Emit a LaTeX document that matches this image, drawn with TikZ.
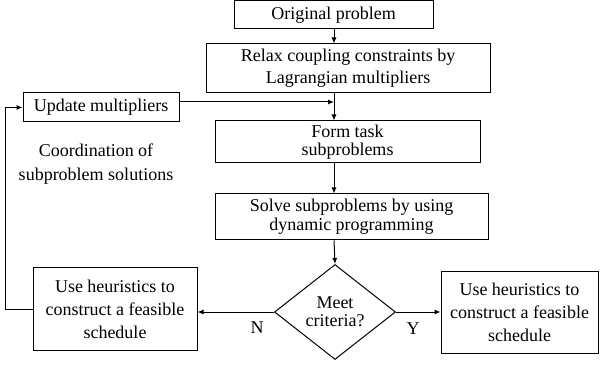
\documentclass[tikz,border=0pt]{standalone}
\usepackage{fontspec}
\setmainfont{Liberation Serif}
\usetikzlibrary{shapes.geometric,arrows.meta}
\begin{document}
\begin{tikzpicture}[x=1pt,y=1pt,
  box/.style={draw, line width=1pt, inner sep=0pt, align=center, font=\fontsize{18}{21}\selectfont},
  arr/.style={line width=1pt, -{Latex[length=6pt,width=5pt]}},
  lbl/.style={inner sep=0pt, align=center, font=\fontsize{18}{24}\selectfont}]
\useasboundingbox (0,0) rectangle (600,-366);
\coordinate (spine) at (334,0);
\coordinate (fb) at (5,0);
\coordinate (join) at (334,-102);
\node[box, minimum width=199pt, minimum height=28pt] (orig) at (333.5,-15) {Original problem};
\node[box, minimum width=284pt, minimum height=49pt, font=\fontsize{18}{22}\selectfont] (relax) at (348,-68.5) {Relax coupling constraints by\\Lagrangian multipliers};
\node[box, minimum width=156pt, minimum height=29pt] (update) at (101,-107.5) {Update multipliers};
\node[box, minimum width=265pt, minimum height=42pt, font=\fontsize{18}{18}\selectfont] (form) at (347.5,-142) {Form task\\subproblems};
\node[box, minimum width=273pt, minimum height=46pt, font=\fontsize{18}{19}\selectfont] (solve) at (351.5,-217) {Solve subproblems by using\\dynamic programming};
\node[draw, line width=1pt, shape=diamond, aspect=1.27, inner sep=0pt, minimum width=121pt, minimum height=95pt, align=center, font=\fontsize{18}{18}\selectfont] (dia) at (335,-312) {Meet\\criteria?};
\node[box, minimum width=164pt, minimum height=82pt, font=\fontsize{18}{23}\selectfont] (left) at (115,-309) {Use heuristics to\\construct a feasible\\schedule};
\node[box, minimum width=157pt, minimum height=81pt, font=\fontsize{18}{23}\selectfont] (right) at (519.5,-312.5) {Use heuristics to\\construct a feasible\\schedule};
\node[lbl] (coord) at (96,-164) {Coordination of\\subproblem solutions};
\node[lbl] (nlab) at (257,-328) {N};
\node[lbl] (ylab) at (413,-329) {Y};
\draw[arr] (orig.south -| spine) -- (relax.north -| spine);
\draw[arr] (relax.south -| spine) -- (form.north -| spine);
\draw[arr] (update.east |- join) -- (join);
\draw[arr] (form.south -| spine) -- (solve.north -| spine);
\draw[arr] (solve.south -| spine) -- (dia.north);
\draw[arr] (dia.west) -- (dia.west -| left.east);
\draw[arr] (dia.east) -- (dia.east -| right.west);
\draw[arr] (left.west) -- (left.west -| fb) |- (update.west);
\end{tikzpicture}
\end{document}
